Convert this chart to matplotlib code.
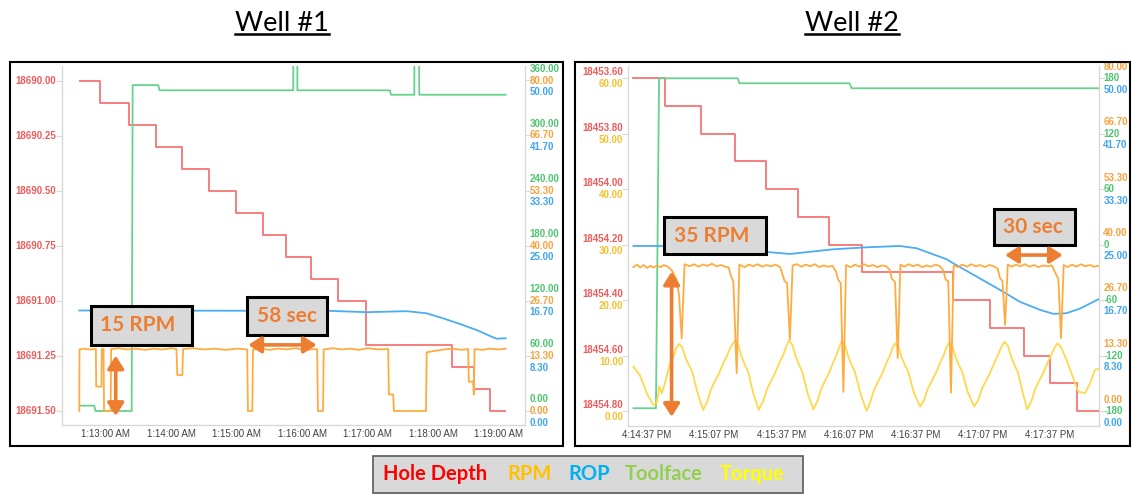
import matplotlib
matplotlib.use("Agg")
import matplotlib.pyplot as plt
from matplotlib.patches import Rectangle, FancyArrowPatch
from matplotlib.lines import Line2D

# ---------------- Well #1 (seconds after 1:13:00 AM) ----------------
w1_xticks = [0, 60, 120, 180, 240, 300, 360]
w1_xlabels = ["1:13:00 AM", "1:14:00 AM", "1:15:00 AM", "1:16:00 AM",
              "1:17:00 AM", "1:18:00 AM", "1:19:00 AM"]

w1_depth_ticks = [18690.00, 18690.25, 18690.50, 18690.75, 18691.00, 18691.25, 18691.50]
w1_tf_ticks = [360, 300, 240, 180, 120, 60, 0]
w1_rpm_ticks = [80, 66.7, 53.3, 40, 26.7, 13.3, 0]
w1_rop_ticks = [50, 41.7, 33.3, 25, 16.7, 8.3, 0]

w1_depth_t = [-24, -5, 21, 46, 70, 95, 119, 144, 165, 188, 213, 238, 317, 337, 352, 366]
w1_depth = [18690.0, 18690.1, 18690.2, 18690.3, 18690.4, 18690.5, 18690.6, 18690.7,
            18690.8, 18690.9, 18691.0, 18691.2, 18691.3, 18691.4, 18691.5, 18691.5]

w1_tf_t = [-23.4, -10.4, -9.5, 23.8, 24.7, 48.2, 49.3, 171.8, 171.9, 175.5, 175.6,
           260.4, 261.3, 282.7, 282.8, 287.1, 287.2, 366.4]
w1_tf = [5.8, 5.8, 0, 0, 355, 355, 349.3, 349.3, 400, 400, 349.3,
         349.3, 344.5, 344.5, 400, 400, 344.5, 344.5]

w1_rpm_t = [-24.2, -24.0, -20, -15, -9.0, -8.7, -3.9, -3.6, -2.0, -1.5, 4.5, 5.0, 12, 20,
            28, 36, 44, 52, 60, 64.8, 65.6, 70.2, 70.9, 80, 90, 100, 110, 120, 129.6,
            130.3, 134.3, 134.9, 142, 150, 158, 166, 174, 182, 193.7, 194.4, 199.1,
            199.7, 208, 216, 224, 232, 240, 250, 258.8, 259.4, 263.4, 264.0, 293.4,
            294.0, 300, 310, 318, 326, 332.0, 332.6, 336.5, 337.2, 337.9, 345, 352,
            360, 366.4]
w1_rpm = [0.0, 14.9, 15.1, 14.9, 15.0, 5.9, 5.9, 15.0, 15.0, 0.0, 0.0, 15.0, 15.2, 14.9,
          15.1, 14.8, 15.1, 14.9, 15.2, 15.0, 8.7, 8.7, 15.0, 15.2, 14.9, 15.1, 14.8, 15.1,
          14.9, 0.0, 0.0, 14.9, 15.1, 14.8, 15.1, 14.9, 15.2, 14.8, 15.0, 0.0, 0.0, 14.9,
          15.2, 14.9, 15.1, 14.8, 15.2, 14.9, 15.0, 4.0, 4.0, 0.0, 0.0, 14.2, 14.5, 14.9,
          15.1, 14.8, 15.0, 7.1, 7.1, 4.0, 15.0, 14.8, 15.1, 14.9, 15.1]

w1_rop_t = [-24.2, 205.5, 239, 263, 275.7, 294, 309, 324.6, 339.8, 354.8, 358.2, 366.4]
w1_rop = [15.2, 15.15, 14.95, 15.05, 15.1, 14.78, 14.02, 13.16, 12.25, 11.15, 10.94, 11.0]

# ---------------- Well #2 (seconds after 4:14:37 PM) ----------------
w2_xticks = [0, 30, 60, 90, 120, 150, 180]
w2_xlabels = ["4:14:37 PM", "4:15:07 PM", "4:15:37 PM", "4:16:07 PM",
              "4:16:37 PM", "4:17:07 PM", "4:17:37 PM"]

w2_depth_ticks = [18453.60, 18453.80, 18454.00, 18454.20, 18454.40, 18454.60, 18454.80]
w2_tq_ticks = [60, 50, 40, 30, 20, 10, 0]
w2_rpm_ticks = [80, 66.7, 53.3, 40, 26.7, 13.3, 0]
w2_tf_ticks = [180, 120, 60, 0, -60, -120, -180]
w2_rop_ticks = [50, 41.7, 33.3, 25, 16.7, 8.3, 0]

w2_depth_t = [-6.1, 8.0, 24.1, 39.3, 53.1, 67.6, 81.5, 96.0, 136.9, 153.3, 168.6,
              180.2, 192.1, 202.5]
w2_depth = [18453.6, 18453.7, 18453.8, 18453.9, 18454.0, 18454.1, 18454.2, 18454.3,
            18454.4, 18454.5, 18454.6, 18454.7, 18454.8, 18454.8]

w2_tf_t = [-6.1, 4.0, 5.4, 40.6, 41.3, 90.6, 91.5, 202.5]
w2_tf = [-177, -177, 180, 180, 174.6, 174.6, 169.2, 169.2]

w2_rop_t = [-6.1, 7, 20, 35, 53.5, 63.9, 83.2, 98.2, 113.1, 120.6, 134, 136.9, 147.4,
            157.8, 166.8, 175.7, 181.7, 187.6, 193.6, 202.5]
w2_rop = [24.8, 24.8, 24.6, 24.2, 23.9, 23.6, 24.3, 24.6, 24.8, 24.45, 22.8, 22.2, 20.2,
          18.2, 16.4, 15.2, 14.6, 14.7, 15.4, 16.9]

w2_rpm_t = [-6.1, -4.5, -3, -1.5, 0, 1.5, 3, 4.5, 6, 7.5, 9, 11, 13.3, 14.3, 15.5, 16.8,
            19, 21, 23, 25, 27, 29, 31, 33, 35, 36.5, 37.5, 38.6, 40.1, 41.3,
            43.5, 45.5, 47.5, 49.5, 51.5, 53.5, 55.5, 57.5, 59.5, 60.5, 61.5, 62.6, 63.9, 65.1,
            67, 69, 71, 73, 75, 77, 79, 81, 83, 84.5, 85.5, 86.6, 87.8, 89.0,
            91, 93, 95, 97, 99, 101, 103, 105, 107, 108.5, 109.5, 110.9, 112.1, 113.3,
            115, 117, 119, 121, 123, 125, 127, 129, 131, 132.5, 133.5, 134.7, 135.9, 137.1,
            139, 141, 143, 145, 147, 149, 151, 153, 155, 156.8, 157.8, 158.9, 160.1, 161.3,
            163, 165, 167, 169, 171, 173, 175, 177, 179, 181, 182.3, 183.9, 185.1, 186.3,
            188, 190, 192, 194, 196, 198, 200, 202.5]
w2_rpm = [34.6, 35.2, 34.5, 35.1, 34.4, 34.9, 34.5, 35.0, 34.6, 35.1, 34.8, 33.9, 31.5, 28.0, 17.5, 35.3,
          34.8, 35.3, 34.7, 35.2, 34.9, 35.4, 34.8, 35.1, 34.7, 34.5, 32.5, 31.2, 9.1, 35.2,
          34.6, 35.2, 34.8, 35.3, 34.7, 35.1, 34.8, 35.2, 34.6, 33.0, 31.2, 30.8, 17.2, 35.0,
          35.3, 34.7, 35.2, 34.8, 35.3, 34.6, 35.0, 34.7, 34.9, 33.5, 31.5, 30.8, 4.6, 35.1,
          34.6, 35.2, 34.7, 35.3, 34.8, 35.1, 34.6, 35.0, 34.8, 34.0, 31.8, 31.0, 12.7, 35.2,
          34.7, 35.3, 34.8, 35.2, 34.6, 35.0, 34.7, 35.2, 34.8, 33.8, 31.6, 31.2, 4.4, 35.0,
          34.6, 35.2, 34.7, 35.3, 34.8, 35.1, 34.6, 35.1, 34.8, 34.2, 32.0, 31.3, 20.7, 35.2,
          34.7, 35.2, 34.8, 35.3, 34.7, 35.1, 34.6, 35.0, 34.8, 35.0, 33.5, 31.8, 17.5, 35.1,
          34.6, 35.2, 34.7, 35.3, 34.8, 35.1, 34.7, 35.0]

w2_tq_t = [-6.1, -3.1, -0.1, 2.8, 4.3, 5.5, 6.6, 8.0, 10.3, 11.8, 13.0, 14.3,
           15.8, 17.3, 18.8, 20.3, 22.5, 25.1, 27.0, 28.5, 29.9, 32.2, 34.4, 35.9, 37.5, 39.3,
           40.8, 42.3, 43.8, 45.3, 47.5, 49.9, 52.0, 53.5, 54.9, 57.2, 59.4, 60.9, 62.2, 63.5,
           65.0, 66.5, 68.0, 69.5, 71.8, 74.4, 76.2, 77.7, 79.1, 81.3, 83.4, 84.8, 86.0, 87.0,
           88.5, 90.0, 91.5, 93.0, 95.4, 98.2, 100.0, 101.5, 102.9, 105.2, 107.3, 108.7, 109.8, 110.9,
           112.4, 113.9, 115.4, 116.9, 119.2, 122.1, 123.9, 125.4, 126.8, 129.1, 131.3, 132.7, 133.9, 135.0,
           136.5, 138.0, 139.5, 141.0, 143.4, 146.3, 148.1, 149.6, 151.0, 153.3, 155.5, 156.9, 158.5, 159.8,
           161.3, 162.8, 164.3, 165.8, 168.0, 170.0, 171.9, 173.4, 174.8, 177.1, 179.3, 180.7, 182.2, 183.5,
           185.0, 187.6, 190.6, 192.8, 195.8, 198.1, 200.3, 202.5]
w2_tq = [8.0, 6.4, 3.2, 1.1, 1.4, 4.4, 3.2, 5.0, 8.6, 9.8, 11.3, 12.1,
         11.5, 9.5, 8.2, 7.0, 3.4, 0.2, 1.8, 3.8, 5.0, 6.8, 8.9, 10.1, 11.6, 12.7,
         11.9, 9.8, 8.3, 7.0, 3.2, 0.2, 1.8, 3.8, 5.0, 6.8, 8.9, 10.1, 11.6, 12.7,
         11.9, 9.8, 8.3, 7.0, 3.2, 0.3, 1.8, 3.8, 5.0, 6.8, 8.9, 10.1, 11.6, 12.6,
         11.8, 9.8, 8.3, 7.0, 3.2, 0.0, 1.8, 3.8, 5.0, 6.8, 8.9, 10.1, 11.4, 12.2,
         11.6, 9.6, 8.2, 7.0, 3.4, 0.8, 2.0, 3.9, 5.0, 6.8, 8.9, 10.1, 11.5, 12.3,
         11.7, 9.7, 8.2, 7.0, 3.4, 0.8, 2.0, 3.9, 5.0, 6.8, 8.9, 10.1, 11.6, 12.5,
         11.8, 9.8, 8.3, 7.0, 3.3, 0.3, 1.8, 3.8, 5.0, 6.8, 8.9, 10.1, 11.4, 12.2,
         11.6, 9.2, 5.9, 3.5, 3.2, 5.0, 7.4, 7.7]

# ---------------- styling ----------------
W, H = 1132, 494
PT = 0.72  # points per pixel at 100 dpi

C_DEPTH, C_RPM, C_ROP, C_TF, C_TQ = "#F47474", "#FFAB40", "#4AADF2", "#66D28E", "#FFD84D"
L_DEPTH, L_RPM, L_ROP, L_TF, L_TQ = "#F05A5A", "#F7A23C", "#40A4F0", "#4CC46E", "#F2C230"
ANNO = "#ED7D31"
GRID = "#D9D9D9"
TICKFONT = dict(family="Liberation Sans", fontsize=7)

fig = plt.figure(figsize=(W / 100, H / 100), dpi=100)
fig.patch.set_facecolor("white")


def span(v1, v2, p1, p2, a, b):
    k = (v2 - v1) / (p2 - p1)
    return v1 + (a - p1) * k, v1 + (b - p1) * k


def make_panel(box, ytick_px, xtick_px, xvals, xlabels):
    left, top, right, bottom = box
    base = fig.add_axes([left / W, 1 - bottom / H, (right - left) / W, (bottom - top) / H])
    base.set_xlim(*span(xvals[0], xvals[-1], xtick_px[0], xtick_px[1], left, right))
    base.set_xticks(xvals)
    base.set_xticklabels(xlabels, **TICKFONT, color="#404040")
    base.tick_params(axis="x", length=0, pad=3)
    for s in ["left", "right", "bottom"]:
        base.spines[s].set_color(GRID)
        base.spines[s].set_linewidth(1)
    base.spines["top"].set_visible(False)
    base.panel = (top, bottom, ytick_px)
    return base


def twin(base, ticks):
    ax = base.twinx()
    for s in ax.spines.values():
        s.set_visible(False)
    ax.tick_params(axis="y", length=0, labelright=False, labelleft=False)
    top, bottom, (ty0, ty1) = base.panel
    ax.set_ylim(*span(ticks[0], ticks[-1], ty0, ty1, bottom, top))
    return ax


def side_labels(ax, ticks, texts, side, color, dy_px, gap_px):
    tr = ax.get_yaxis_transform()
    for v, s in zip(ticks, texts):
        if side == "left":
            ax.annotate(s, xy=(0, v), xycoords=tr, xytext=(-gap_px * PT, dy_px * PT),
                        textcoords="offset points", ha="right", va="center",
                        color=color, annotation_clip=False, fontweight="bold", **TICKFONT)
        else:
            ax.annotate(s, xy=(1, v), xycoords=tr, xytext=(gap_px * PT, dy_px * PT),
                        textcoords="offset points", ha="left", va="center",
                        color=color, annotation_clip=False, fontweight="bold", **TICKFONT)


def note_box(ax, x0, x1, y0, y1, text, tx, ty, ha):
    ax.add_patch(Rectangle((x0, y0), x1 - x0, y1 - y0, transform=ax.transData,
                           facecolor="#D9D9D9", edgecolor="black", linewidth=2.2,
                           zorder=10, clip_on=False))
    ax.text(tx, ty, text, ha=ha, va="center", fontsize=15, fontweight="bold",
            color=ANNO, family="Lato", zorder=11)


def note_arrow(ax, a, b):
    ax.add_patch(FancyArrowPatch(a, b, transform=ax.transData,
                                 arrowstyle="<|-|>,head_length=0.55,head_width=0.35",
                                 mutation_scale=14, color=ANNO, linewidth=2.6,
                                 shrinkA=0, shrinkB=0, zorder=12, clip_on=False))


LW = 1.3

# ---- Well #1 panel ----
ax1 = make_panel((61.7, 66, 525, 425), (80.5, 411), (105.7, 498.7), w1_xticks, w1_xlabels)
top, bottom, (ty0, ty1) = ax1.panel
ax1.set_ylim(*span(w1_depth_ticks[0], w1_depth_ticks[-1], ty0, ty1, bottom, top))
ax1.set_yticks(w1_depth_ticks)
ax1.set_yticklabels([])
ax1.tick_params(axis="y", length=4, color=GRID, direction="out")
ax1.plot(w1_depth_t, w1_depth, color=C_DEPTH, lw=LW, drawstyle="steps-post")
side_labels(ax1, w1_depth_ticks, [f"{v:.2f}" for v in w1_depth_ticks], "left", L_DEPTH, 0, 6)

ax1_tf = twin(ax1, w1_tf_ticks)
ax1_tf.plot(w1_tf_t, w1_tf, color=C_TF, lw=LW)
side_labels(ax1_tf, w1_tf_ticks, [f"{v:.2f}" for v in w1_tf_ticks], "right", L_TF, 11.5, 4.5)

ax1_rop = twin(ax1, w1_rop_ticks)
ax1_rop.plot(w1_rop_t, w1_rop, color=C_ROP, lw=LW)
side_labels(ax1_rop, w1_rop_ticks, [f"{v:.2f}" for v in w1_rop_ticks], "right", L_ROP, -11.5, 4.5)

ax1_rpm = twin(ax1, w1_rpm_ticks)
ax1_rpm.set_yticks(w1_rpm_ticks)
ax1_rpm.tick_params(axis="y", length=4, color=GRID, direction="out")
ax1_rpm.plot(w1_rpm_t, w1_rpm, color=C_RPM, lw=LW)
side_labels(ax1_rpm, w1_rpm_ticks, [f"{v:.2f}" for v in w1_rpm_ticks], "right", L_RPM, 0, 4.5)

note_box(ax1_rpm, -13.7, 79.3, 16.0, 25.4, "15 RPM", -5.2, 20.8, "left")
note_arrow(ax1_rpm, (9.2, -1.2), (9.2, 13.4))
note_box(ax1_rpm, 129.2, 202.5, 18.4, 27.7, "58 sec", 165.8, 23.1, "center")
note_arrow(ax1_rpm, (130.6, 16.0), (193.3, 16.0))

# ---- Well #2 panel ----
ax2 = make_panel((628.3, 66, 1099.3, 426), (78.3, 411), (647, 1049.6), w2_xticks, w2_xlabels)
top, bottom, (ty0, ty1) = ax2.panel
ax2.set_ylim(*span(w2_depth_ticks[0], w2_depth_ticks[-1], ty0, ty1, bottom, top))
ax2.set_yticks(w2_depth_ticks)
ax2.set_yticklabels([])
ax2.tick_params(axis="y", length=4, color=GRID, direction="out")
ax2.plot(w2_depth_t, w2_depth, color=C_DEPTH, lw=LW, drawstyle="steps-post", zorder=3)
side_labels(ax2, w2_depth_ticks, [f"{v:.2f}" for v in w2_depth_ticks], "left", L_DEPTH, 6, 5)

ax2_tf = twin(ax2, w2_tf_ticks)
ax2_tf.plot(w2_tf_t, w2_tf, color=C_TF, lw=LW)
side_labels(ax2_tf, w2_tf_ticks, [f"{v:d}" for v in w2_tf_ticks], "right", L_TF, 0, 4)

ax2_tq = twin(ax2, w2_tq_ticks)
ax2_tq.plot(w2_tq_t, w2_tq, color=C_TQ, lw=LW)
side_labels(ax2_tq, w2_tq_ticks, [f"{v:.2f}" for v in w2_tq_ticks], "left", L_TQ, -6, 5)

ax2_rop = twin(ax2, w2_rop_ticks)
ax2_rop.plot(w2_rop_t, w2_rop, color=C_ROP, lw=LW)
side_labels(ax2_rop, w2_rop_ticks, [f"{v:.2f}" for v in w2_rop_ticks], "right", L_ROP, -11.5, 4)

ax2_rpm = twin(ax2, w2_rpm_ticks)
ax2_rpm.set_yticks(w2_rpm_ticks)
ax2_rpm.tick_params(axis="y", length=4, color=GRID, direction="out")
ax2_rpm.plot(w2_rpm_t, w2_rpm, color=C_RPM, lw=LW)
side_labels(ax2_rpm, w2_rpm_ticks, [f"{v:.2f}" for v in w2_rpm_ticks], "right", L_RPM, 11.5, 4)

note_box(ax2_rpm, 7.7, 53.2, 37.7, 46.7, "35 RPM", 12.1, 42.15, "left")
note_arrow(ax2_rpm, (11.0, -1.4), (11.0, 33.5))
note_box(ax2_rpm, 155.1, 191.4, 39.9, 48.6, "30 sec", 172.7, 44.3, "center")
note_arrow(ax2_rpm, (160.1, 37.5), (185.9, 37.5))

# ---- panel frames ----
for (x0, y0, x1, y1) in [(10, 62, 563, 446), (575, 62, 1130, 446)]:
    fig.add_artist(Rectangle((x0 / W, 1 - y1 / H), (x1 - x0) / W, (y1 - y0) / H,
                             transform=fig.transFigure, fill=False,
                             edgecolor="black", linewidth=1.5))

# ---- titles with underline ----
titles = []
for cx, s in [(282, "Well #1"), (852, "Well #2")]:
    titles.append(fig.text(cx / W, 1 - 30.7 / H, s, ha="center", va="baseline",
                           fontsize=19.5, family="Lato", color="black"))

# ---- legend strip ----
fig.add_artist(Rectangle((373 / W, 1 - 493 / H), 430 / W, 37 / H, transform=fig.transFigure,
                         facecolor="#D9D9D9", edgecolor="#595959", linewidth=1.2))
for x, s, c in [(383.3, "Hole Depth", "#FF0000"), (507.3, "RPM", "#FFC000"),
                (568.3, "ROP", "#00B0F0"), (625, "Toolface", "#92D050"),
                (720, "Torque", "#FFFF00")]:
    fig.text(x / W, 1 - 474 / H, s, ha="left", va="center", fontsize=14.5,
             fontweight="bold", color=c, family="Lato")

fig.canvas.draw()
renderer = fig.canvas.get_renderer()
for t in titles:
    bb = t.get_window_extent(renderer)
    fig.add_artist(Line2D([bb.x0 / W, bb.x1 / W], [1 - 34.5 / H, 1 - 34.5 / H],
                          transform=fig.transFigure, color="black", linewidth=1.8))

fig.savefig("out.png", dpi=100)
